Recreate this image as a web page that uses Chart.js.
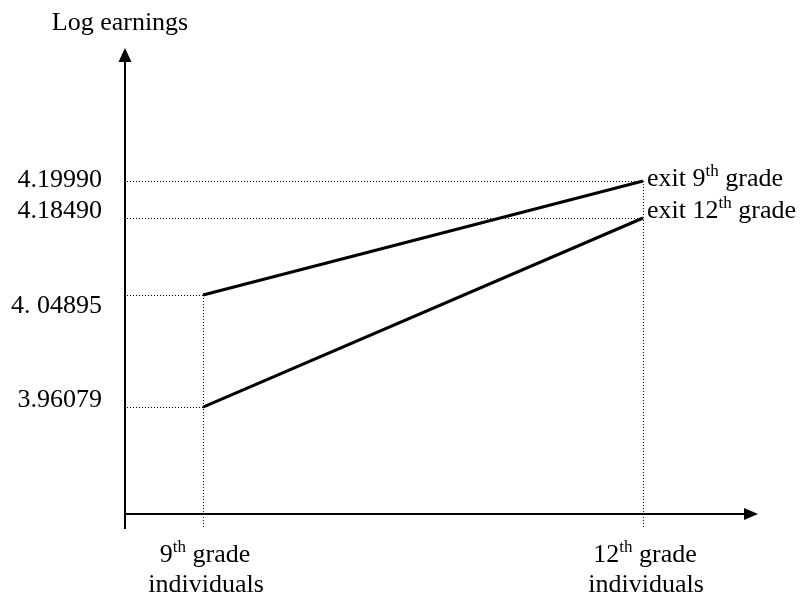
<!DOCTYPE html>
<html>
<head>
<meta charset="utf-8">
<script src="https://cdn.jsdelivr.net/npm/chart.js@4.4.0/dist/chart.umd.min.js"></script>
<style>
  html, body { margin: 0; padding: 0; background: #fff; }
  #wrap { width: 806px; height: 603px; }
</style>
</head>
<body>
<div id="wrap"><canvas id="chart" width="806" height="603"></canvas></div>
<script>
// grades on the x axis, log earnings of the two exit groups
const grades = [9, 12];
const gradeNames = [['9', 'th', ' grade'], ['12', 'th', ' grade']];
const gradeSub = 'individuals';
const exit9 = [4.04895, 4.19990];
const exit12 = [3.96079, 4.18490];
const seriesNames = [['exit 9', 'th', ' grade'], ['exit 12', 'th', ' grade']];
const yTickValues = [4.19990, 4.18490, 4.04895, 3.96079];
const yTickLabels = ['4.19990', '4.18490', '4. 04895', '3.96079'];
const yTitle = 'Log earnings';

const FONT = '"Liberation Serif", "Times New Roman", serif';

// the figure is a sketch: the y axis is not to scale, so map values piecewise
class SchematicScale extends Chart.LinearScale {
  static id = 'schematic';
  static defaults = Chart.LinearScale.defaults;

  fraction(value) {
    const vals = [...yTickValues].sort((a, b) => a - b);
    const fr = this.options.knots;
    const xs = [this.min, ...vals, this.max];
    const fs = [0, ...Array.from(fr), 1];
    for (let i = 0; i < xs.length - 1; i++) {
      if (value <= xs[i + 1] || i === xs.length - 2) {
        const t = (value - xs[i]) / (xs[i + 1] - xs[i]);
        return fs[i] + t * (fs[i + 1] - fs[i]);
      }
    }
    return 0;
  }
  getPixelForValue(value) {
    return this.bottom - this.fraction(value) * (this.bottom - this.top);
  }
  getValueForPixel(pixel) {
    return this.min + (this.bottom - pixel) / (this.bottom - this.top) * (this.max - this.min);
  }
}
Chart.register(SchematicScale);

function drawSup(ctx, parts, x, y, align) {
  const big = '26px ' + FONT, small = '17px ' + FONT;
  ctx.font = big; const w0 = ctx.measureText(parts[0]).width;
  ctx.font = small; const w1 = ctx.measureText(parts[1]).width;
  ctx.font = big; const w2 = ctx.measureText(parts[2]).width;
  let left = x;
  if (align === 'center') left = x - (w0 + w1 + w2) / 2;
  ctx.textAlign = 'left';
  ctx.textBaseline = 'alphabetic';
  ctx.font = big; ctx.fillText(parts[0], left, y);
  ctx.font = small; ctx.fillText(parts[1], left + w0, y - 10);
  ctx.font = big; ctx.fillText(parts[2], left + w0 + w1, y);
}

const crisp = v => Math.round(v) + 0.5;

const sketchPlugin = {
  id: 'sketch',
  beforeDatasetsDraw(chart) {
    const ctx = chart.ctx;
    const xs = chart.scales.x, ys = chart.scales.y;
    const a = chart.chartArea;
    const axisX = a.left, axisY = a.bottom;
    ctx.save();
    ctx.strokeStyle = '#000';
    ctx.lineWidth = 1;
    ctx.setLineDash([1, 2]);
    // dotted guides to each point
    [exit9, exit12].forEach(series => {
      series.forEach((v, i) => {
        const px = xs.getPixelForValue(grades[i]);
        const py = crisp(ys.getPixelForValue(v));
        ctx.beginPath();
        ctx.moveTo(axisX + 2, py);
        ctx.lineTo(px, py);
        ctx.stroke();
      });
    });
    grades.forEach((g, i) => {
      const px = crisp(xs.getPixelForValue(g));
      const top = Math.max(exit9[i], exit12[i]);
      ctx.beginPath();
      ctx.moveTo(px, ys.getPixelForValue(top));
      ctx.lineTo(px, axisY + 13);
      ctx.stroke();
    });
    ctx.setLineDash([]);

    // axes with arrow heads
    ctx.lineWidth = 2;
    ctx.beginPath();
    ctx.moveTo(axisX, axisY + 15);
    ctx.lineTo(axisX, a.top + 12);
    ctx.moveTo(axisX - 1, axisY);
    ctx.lineTo(a.right - 12, axisY);
    ctx.stroke();
    ctx.fillStyle = '#000';
    ctx.beginPath();
    ctx.moveTo(axisX, a.top);
    ctx.lineTo(axisX - 6.5, a.top + 14);
    ctx.lineTo(axisX + 6.5, a.top + 14);
    ctx.closePath();
    ctx.fill();
    ctx.beginPath();
    ctx.moveTo(a.right, axisY);
    ctx.lineTo(a.right - 14, axisY - 6);
    ctx.lineTo(a.right - 14, axisY + 6);
    ctx.closePath();
    ctx.fill();
    ctx.restore();
  },
  afterDatasetsDraw(chart, args, opts) {
    const ctx = chart.ctx;
    const xs = chart.scales.x, ys = chart.scales.y;
    ctx.save();
    ctx.fillStyle = '#000';
    ctx.font = '26px ' + FONT;

    // title of the y axis
    ctx.textAlign = 'center';
    ctx.textBaseline = 'alphabetic';
    ctx.fillText(yTitle, 120, 30);

    // tick labels
    ctx.textAlign = 'right';
    yTickValues.forEach((v, i) => {
      ctx.fillText(yTickLabels[i], 102, ys.getPixelForValue(v) + opts.tickShift[i]);
    });

    // line end labels
    [exit9, exit12].forEach((series, s) => {
      const last = series.length - 1;
      const px = xs.getPixelForValue(grades[last]);
      const py = ys.getPixelForValue(series[last]);
      drawSup(ctx, seriesNames[s], px + 4, py + opts.endShift[s], 'left');
    });

    // category labels under the x axis
    grades.forEach((g, i) => {
      const px = xs.getPixelForValue(g);
      drawSup(ctx, gradeNames[i], px + 2, 562, 'center');
      ctx.font = '26px ' + FONT;
      ctx.textAlign = 'center';
      ctx.fillText(gradeSub, px + 3, 592);
    });
    ctx.restore();
  }
};

new Chart(document.getElementById('chart'), {
  type: 'line',
  data: {
    datasets: [
      {
        label: 'exit 9th grade',
        data: grades.map((g, i) => ({ x: g, y: exit9[i] })),
        borderColor: '#000',
        borderWidth: 3,
        pointRadius: 0,
        fill: false,
        tension: 0
      },
      {
        label: 'exit 12th grade',
        data: grades.map((g, i) => ({ x: g, y: exit12[i] })),
        borderColor: '#000',
        borderWidth: 3,
        pointRadius: 0,
        fill: false,
        tension: 0
      }
    ]
  },
  options: {
    responsive: false,
    animation: false,
    layout: { padding: { left: 125, right: 48, top: 48, bottom: 89 } },
    scales: {
      x: { type: 'linear', display: false, min: 8.468, max: 12.784 },
      y: { type: 'schematic', display: false, min: 3.90, max: 4.26, knots: [0.2296, 0.470, 0.6352, 0.7146] }
    },
    plugins: {
      legend: { display: false },
      tooltip: { enabled: false },
      sketch: { tickShift: [6, 0, 18, 0], endShift: [5, 0] }
    }
  },
  plugins: [sketchPlugin]
});
</script>
</body>
</html>
